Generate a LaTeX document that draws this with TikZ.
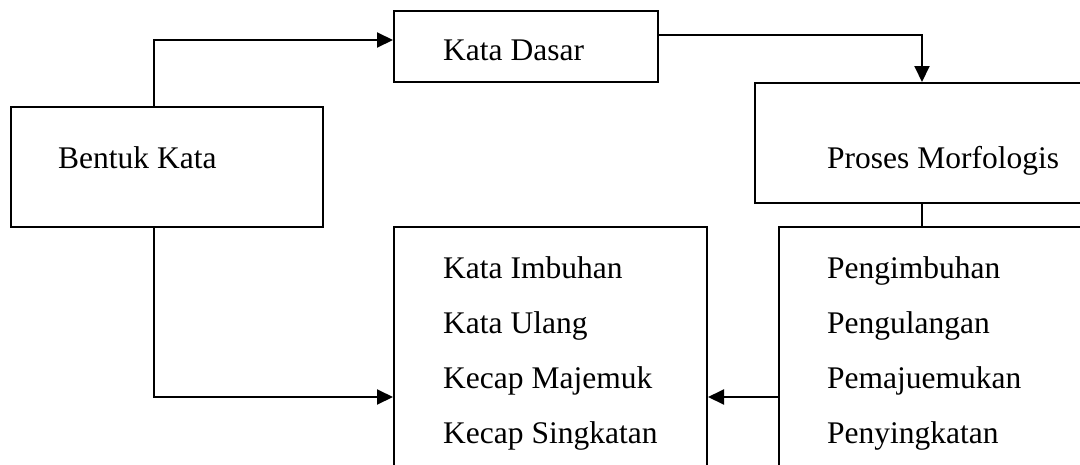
\documentclass[tikz,border=0pt]{standalone}
\usepackage{fontspec}
\setmainfont{Liberation Serif}
\usetikzlibrary{arrows.meta}
\begin{document}
\begin{tikzpicture}[x=1pt,y=-1pt,
  box/.style={draw,line width=2pt,rectangle,inner sep=0pt,anchor=north west},
  lbl/.style={inner sep=0pt,anchor=base west,font=\fontsize{31.5}{36}\selectfont},
  link/.style={line width=2pt},
  arr/.style={line width=2pt,-{Triangle[length=16pt,width=15pt]}}]
\useasboundingbox (0,0) rectangle (1080,464);
\clip (0,0) rectangle (1080,464);
% boxes
\node[box,minimum width=264pt,minimum height=71pt] (dasar) at (393,10) {};
\node[box,minimum width=312pt,minimum height=120pt] (bentuk) at (10,106) {};
\node[box,minimum width=350pt,minimum height=120pt] (proses) at (754,82) {};
\node[box,minimum width=313pt,minimum height=260pt] (hasil) at (393,226) {};
\node[box,minimum width=330pt,minimum height=260pt] (cara) at (778,226) {};
% labels
\node[lbl] (tdasar) at (443,60) {Kata Dasar};
\node[lbl] (tbentuk) at (58,168) {Bentuk Kata};
\node[lbl] (tproses) at (827,168) {Proses Morfologis};
\node[lbl] (h1) at (443,278) {Kata Imbuhan};
\node[lbl] (h2) at (443,333) {Kata Ulang};
\node[lbl] (h3) at (443,388) {Kecap Majemuk};
\node[lbl] (h4) at (443,443) {Kecap Singkatan};
\node[lbl] (c1) at (827,278) {Pengimbuhan};
\node[lbl] (c2) at (827,333) {Pengulangan};
\node[lbl] (c3) at (827,388) {Pemajuemukan};
\node[lbl] (c4) at (827,443) {Penyingkatan};
% connectors
\draw[arr] ([xshift=144pt]bentuk.north west) |- ([yshift=6.5pt]dasar.west);
\draw[arr] ([yshift=11.5pt]dasar.east) -| ([xshift=168pt]proses.north west);
\draw[link] ([xshift=168pt]proses.south west) -- ([xshift=144pt]cara.north west);
\draw[arr] ([xshift=144pt]bentuk.south west) |- ([yshift=-40pt]hasil.west);
\draw[arr] ([yshift=-40pt]cara.west) -- ([yshift=-40pt]hasil.east);
\end{tikzpicture}
\end{document}
